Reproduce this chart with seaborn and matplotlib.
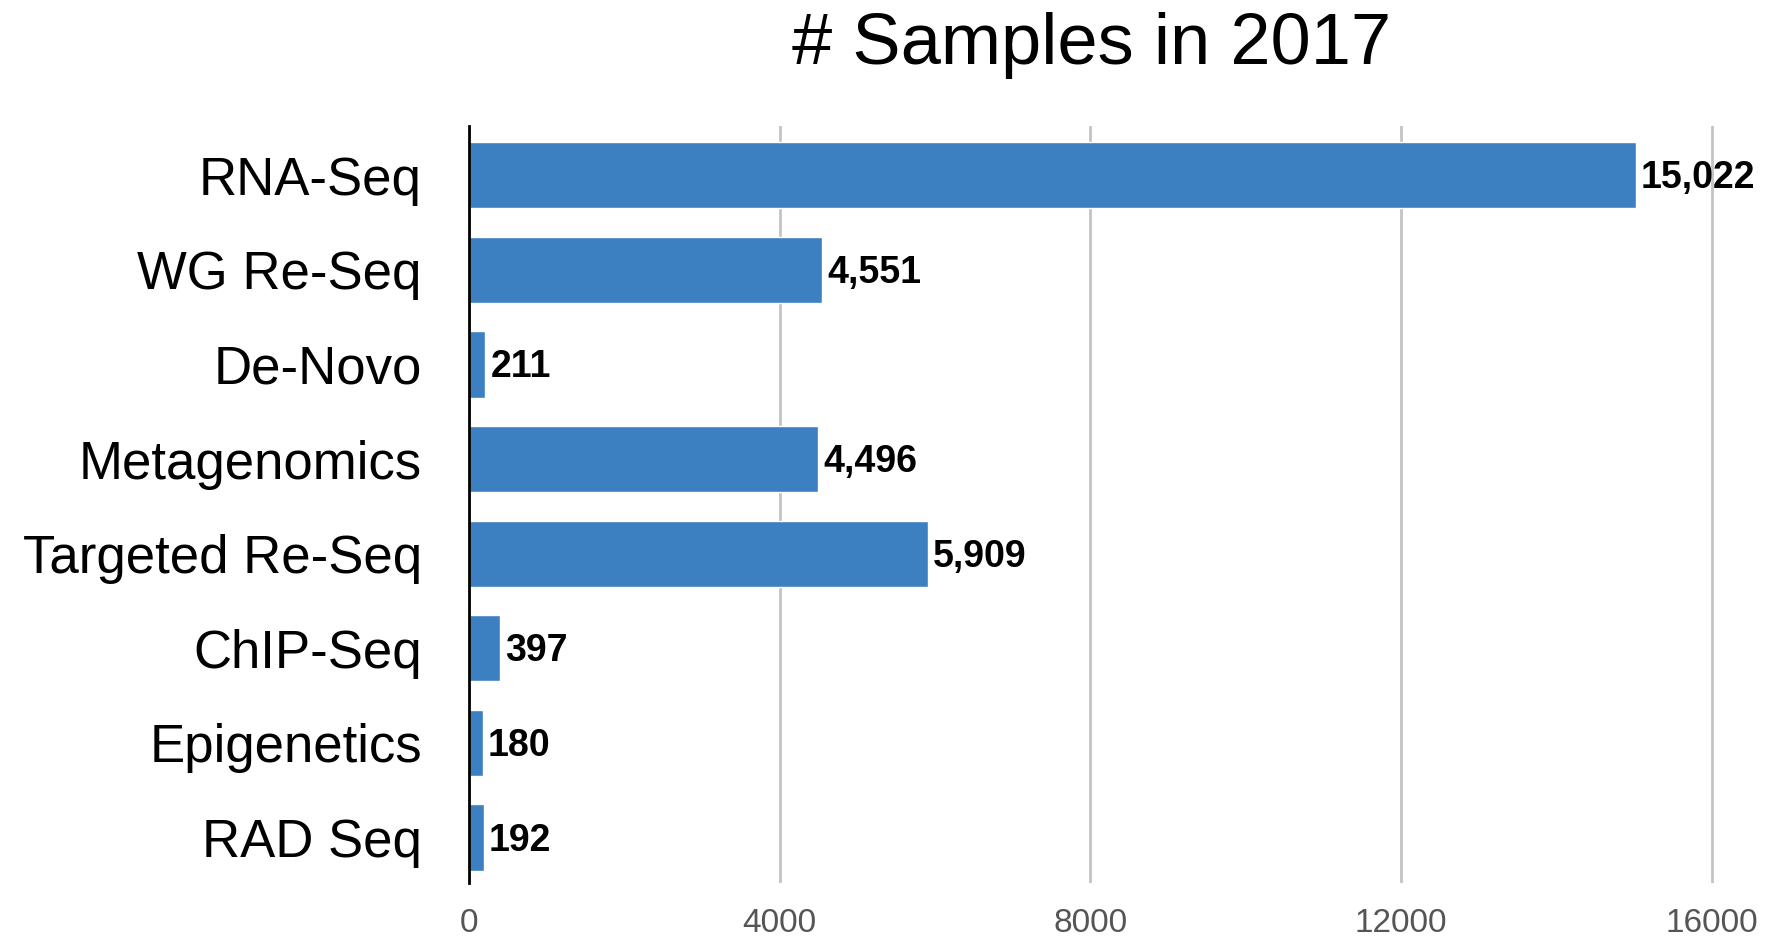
import pandas as pd
import seaborn as sns
import matplotlib.pyplot as plt

# values
categories = ["RNA-Seq", "WG Re-Seq", "De-Novo", "Metagenomics",
              "Targeted Re-Seq", "ChIP-Seq", "Epigenetics", "RAD Seq"]
samples = [15022, 4551, 211, 4496, 5909, 397, 180, 192]
x_ticks = [0, 4000, 8000, 12000, 16000]

df = pd.DataFrame({"category": categories, "samples": samples})

sns.set_style("white")
plt.rcParams['font.family'] = ['Liberation Sans', 'DejaVu Sans']

fig = plt.figure(figsize=(17.8, 9.41), dpi=100)
ax = fig.add_axes([0.2635, 0.0616, 0.7025, 0.8045])

sns.barplot(data=df, x="samples", y="category", orient="h", color="#3d80c2",
            saturation=1, width=0.70, ax=ax, zorder=3)

ax.set_xlim(0, 16100)
ax.set_ylim(7.48, -0.52)
ax.set_xticks(x_ticks)
ax.set_xticklabels([str(t) for t in x_ticks])
ax.xaxis.grid(True, color="#c4c4c4", linewidth=2, zorder=0)
ax.set_axisbelow(True)
for s in ["top", "right", "bottom"]:
    ax.spines[s].set_visible(False)
ax.spines["left"].set_color("black")
ax.spines["left"].set_linewidth(2)
ax.spines["left"].set_zorder(4)

ax.tick_params(axis="y", length=0, pad=34, labelsize=38, labelcolor="black")
ax.tick_params(axis="x", length=0, pad=18, labelsize=24, labelcolor="#555555")
ax.set_xlabel("")
ax.set_ylabel("")

# value labels next to each bar
for i, v in enumerate(samples):
    ax.annotate(f"{v:,}", xy=(v, i), xytext=(5, -3), textcoords="offset pixels",
                ha="left", va="center", fontsize=27, fontweight="bold",
                color="black", clip_on=False, zorder=5)

fig.text(0.613, 0.952, "# Samples in 2017", ha="center", va="center",
         fontsize=52, color="black")

plt.savefig("out.png", dpi=100)
